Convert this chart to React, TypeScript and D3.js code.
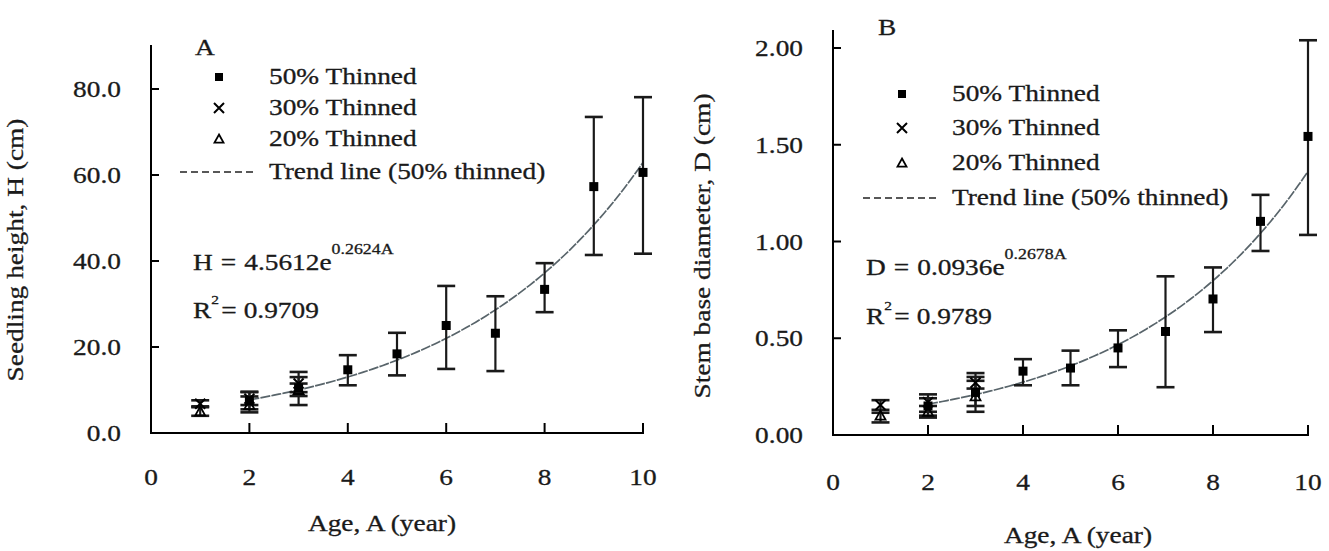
import * as d3 from 'd3';
import React from 'react';

// ---- data ----
const xTicks = [0, 2, 4, 6, 8, 10];

// panel A: seedling height (cm)
const hTicks = [0, 20, 40, 60, 80];
const h50Age = [2, 3, 4, 5, 6, 7, 8, 9, 10];
const h50Mean = [7.5, 10.5, 14.7, 18.4, 25.0, 23.2, 33.4, 57.3, 60.6];
const h50Lo = [5.5, 6.5, 11.1, 13.4, 14.9, 14.4, 28.1, 41.4, 41.7];
const h50Hi = [9.5, 14.2, 18.1, 23.3, 34.2, 31.8, 39.5, 73.5, 78.1];
const h30Age = [1, 2, 3];
const h30Mean = [6.8, 8.0, 11.5];
const h30Lo = [6.0, 6.5, 9.5];
const h30Hi = [7.6, 9.6, 13.0];
const h20Age = [1, 2, 3];
const h20Mean = [5.0, 6.5, 10.0];
const h20Lo = [4.0, 4.8, 8.6];
const h20Hi = [6.2, 8.5, 11.5];
const hFit = { a: 4.5612, b: 0.2624 };

// panel B: stem base diameter (cm)
const dTicks = [0, 0.5, 1, 1.5, 2];
const d50Age = [2, 3, 4, 5, 6, 7, 8, 9, 10];
const d50Mean = [0.15, 0.22, 0.33, 0.346, 0.45, 0.535, 0.703, 1.104, 1.543];
const d50Lo = [0.1, 0.15, 0.257, 0.257, 0.351, 0.247, 0.532, 0.951, 1.034];
const d50Hi = [0.21, 0.3, 0.392, 0.436, 0.541, 0.82, 0.866, 1.241, 2.04];
const d30Age = [1, 2, 3];
const d30Mean = [0.155, 0.17, 0.27];
const d30Lo = [0.13, 0.12, 0.24];
const d30Hi = [0.18, 0.19, 0.32];
const d20Age = [1, 2, 3];
const d20Mean = [0.1, 0.12, 0.2];
const d20Lo = [0.065, 0.09, 0.12];
const d20Hi = [0.115, 0.15, 0.28];
const dFit = { a: 0.0936, b: 0.2678 };

const legendNames = ['50% Thinned', '30% Thinned', '20% Thinned', 'Trend line (50% thinned)'];

const FONT = '"Liberation Serif", "Times New Roman", serif';
const INK = '#1a1a1a';
const STRETCH = 1.19;

type TProps = {
  x: number;
  y: number;
  rot?: number;
  size?: number;
  anchor?: string;
  children: React.ReactNode;
};

// text in the picture is a bit wider than the font, so stretch it
const T = ({ x, y, rot = 0, size = 23, anchor = 'start', children }: TProps) => (
  <text
    transform={`translate(${x},${y}) rotate(${rot}) scale(${STRETCH},1)`}
    fontFamily={FONT}
    fontSize={size}
    fill={INK}
    stroke={INK}
    strokeWidth={0.3}
    textAnchor={anchor}
  >
    {children}
  </text>
);

type Series = { age: number[]; mean: number[]; lo: number[]; hi: number[] };

type PanelProps = {
  letter: string;
  xRange: [number, number];
  yDomain: [number, number];
  yRange: [number, number];
  yTop: number;
  yTicks: number[];
  yFmt: (v: number) => string;
  s50: Series;
  s30: Series;
  s20: Series;
  fit: { a: number; b: number };
  letterPos: [number, number];
  legendX: number;
  legendRows: number[];
  eqX: number;
  eqY: number;
  r2Y: number;
  eqVar: string;
  eqText: string;
  eqExp: string;
  r2: string;
  yTitle: string;
  yTitlePos: [number, number];
  xTitlePos: [number, number];
  xLabelY: number;
};

const Panel = (p: PanelProps) => {
  const x = d3.scaleLinear().domain([0, 10]).range(p.xRange);
  const y = d3.scaleLinear().domain(p.yDomain).range(p.yRange);
  const y0 = p.yRange[0];
  const x0 = p.xRange[0];

  const trendAges = d3.range(2, 10.001, 0.1);
  const trend = d3
    .line<number>()
    .x((a) => x(a))
    .y((a) => y(p.fit.a * Math.exp(p.fit.b * a)))(trendAges);

  const bars = (s: Series, key: string) =>
    s.age.map((a, i) => (
      <g key={key + i} stroke={INK} strokeWidth={2.2}>
        <line x1={x(a)} x2={x(a)} y1={y(s.lo[i])} y2={y(s.hi[i])} />
        <line x1={x(a) - 9} x2={x(a) + 9} y1={y(s.lo[i])} y2={y(s.lo[i])} strokeWidth={2.6} />
        <line x1={x(a) - 9} x2={x(a) + 9} y1={y(s.hi[i])} y2={y(s.hi[i])} strokeWidth={2.6} />
      </g>
    ));

  const square = (cx: number, cy: number, k: string, s = 9) => (
    <rect key={k} x={cx - s / 2} y={cy - s / 2} width={s} height={s} fill="#000" />
  );
  const cross = (cx: number, cy: number, k: string, s = 5) => (
    <path
      key={k}
      d={`M${cx - s},${cy - s}L${cx + s},${cy + s}M${cx - s},${cy + s}L${cx + s},${cy - s}`}
      stroke="#000"
      strokeWidth={2}
    />
  );
  const tri = (cx: number, cy: number, k: string, s = 5) => (
    <path
      key={k}
      d={`M${cx},${cy - s}L${cx + s},${cy + s * 0.8}L${cx - s},${cy + s * 0.8}Z`}
      fill="none"
      stroke="#000"
      strokeWidth={1.8}
    />
  );

  const [l0, l1, l2, l3] = p.legendRows;

  return (
    <g>
      {/* axes */}
      <line x1={x0} x2={x0} y1={y0 + 1} y2={p.yTop} stroke="#000" strokeWidth={2} />
      <line x1={x0 - 1} x2={p.xRange[1] + 1} y1={y0} y2={y0} stroke="#000" strokeWidth={2} />
      {xTicks
        .filter((t) => t > 0)
        .map((t) => (
          <line key={'xt' + t} x1={x(t)} x2={x(t)} y1={y0} y2={y0 - 10} stroke="#000" strokeWidth={2} />
        ))}
      {p.yTicks
        .filter((t) => t > 0)
        .map((t) => (
          <line key={'yt' + t} x1={x0} x2={x0 + 8} y1={y(t)} y2={y(t)} stroke="#000" strokeWidth={2} />
        ))}
      {xTicks.map((t) => (
        <T key={'xl' + t} x={x(t)} y={p.xLabelY} anchor="middle">
          {t}
        </T>
      ))}
      {p.yTicks.map((t) => (
        <T key={'yl' + t} x={x0 - 30} y={y(t) + 8} anchor="end">
          {p.yFmt(t)}
        </T>
      ))}
      <T x={p.xTitlePos[0]} y={p.xTitlePos[1]} anchor="middle">
        Age, A (year)
      </T>
      <T x={p.yTitlePos[0]} y={p.yTitlePos[1]} rot={-90} anchor="middle">
        {p.yTitle}
      </T>

      {/* trend line */}
      <path d={trend ?? ''} fill="none" stroke="#58646a" strokeWidth={1.7} strokeDasharray="10 1.2" />

      {/* error bars and markers */}
      {bars(p.s20, 'b20')}
      {bars(p.s30, 'b30')}
      {bars(p.s50, 'b50')}
      {p.s20.age.map((a, i) => tri(x(a), y(p.s20.mean[i]), 'm20' + i))}
      {p.s30.age.map((a, i) => cross(x(a), y(p.s30.mean[i]), 'm30' + i))}
      {p.s50.age.map((a, i) => square(x(a), y(p.s50.mean[i]), 'm50' + i))}

      {/* panel letter and legend */}
      <T x={p.letterPos[0]} y={p.letterPos[1]}>
        {p.letter}
      </T>
      {square(p.legendX, l0 - 7, 'lg0', 8)}
      {cross(p.legendX, l1 - 7, 'lg1', 5)}
      {tri(p.legendX, l2 - 7, 'lg2', 4.5)}
      <line
        x1={p.legendX - 39}
        x2={p.legendX + 38}
        y1={l3 - 7}
        y2={l3 - 7}
        stroke="#222"
        strokeWidth={1.6}
        strokeDasharray="7 4"
      />
      <T x={p.legendX + 50} y={l0}>
        {legendNames[0]}
      </T>
      <T x={p.legendX + 50} y={l1}>
        {legendNames[1]}
      </T>
      <T x={p.legendX + 50} y={l2}>
        {legendNames[2]}
      </T>
      <T x={p.legendX + 50} y={l3}>
        {legendNames[3]}
      </T>

      {/* fitted equation */}
      <T x={p.eqX} y={p.eqY}>
        {p.eqVar}
        <tspan dx={1}>=</tspan>
        <tspan dx={1}>{p.eqText}</tspan>
        <tspan fontSize={15} dy={-16}>
          {p.eqExp}
        </tspan>
      </T>
      <T x={p.eqX} y={p.r2Y}>
        R
        <tspan fontSize={13} dy={-14}>
          2
        </tspan>
        <tspan dy={14} dx={2}>
          = {p.r2}
        </tspan>
      </T>
    </g>
  );
};

export default function App() {
  return (
    <svg
      width={1329}
      height={551}
      viewBox="0 0 1329 551"
      style={{ position: 'absolute', left: 0, top: 0, background: '#fff' }}
    >
      <rect width={1329} height={551} fill="#fff" />
      <Panel
        letter="A"
        xRange={[151, 643]}
        yDomain={[0, 80]}
        yRange={[433, 89]}
        yTop={45}
        yTicks={hTicks}
        yFmt={(v) => v.toFixed(1)}
        s50={{ age: h50Age, mean: h50Mean, lo: h50Lo, hi: h50Hi }}
        s30={{ age: h30Age, mean: h30Mean, lo: h30Lo, hi: h30Hi }}
        s20={{ age: h20Age, mean: h20Mean, lo: h20Lo, hi: h20Hi }}
        fit={hFit}
        letterPos={[195, 55]}
        legendX={219}
        legendRows={[84, 115, 146, 179]}
        eqX={193}
        eqY={270}
        r2Y={318}
        eqVar="H "
        eqText=" 4.5612e"
        eqExp="0.2624A"
        r2="0.9709"
        yTitle="Seedling height, H (cm)"
        yTitlePos={[23, 250]}
        xTitlePos={[382, 531]}
        xLabelY={485}
      />
      <Panel
        letter="B"
        xRange={[833, 1308]}
        yDomain={[0, 2]}
        yRange={[435, 48]}
        yTop={30}
        yTicks={dTicks}
        yFmt={(v) => v.toFixed(2)}
        s50={{ age: d50Age, mean: d50Mean, lo: d50Lo, hi: d50Hi }}
        s30={{ age: d30Age, mean: d30Mean, lo: d30Lo, hi: d30Hi }}
        s20={{ age: d20Age, mean: d20Mean, lo: d20Lo, hi: d20Hi }}
        fit={dFit}
        letterPos={[878, 35]}
        legendX={902}
        legendRows={[101, 135, 170, 205]}
        eqX={866}
        eqY={275}
        r2Y={324}
        eqVar="D "
        eqText=" 0.0936e"
        eqExp="0.2678A"
        r2="0.9789"
        yTitle="Stem base diameter, D (cm)"
        yTitlePos={[710, 246]}
        xTitlePos={[1078, 543]}
        xLabelY={490}
      />
    </svg>
  );
}
